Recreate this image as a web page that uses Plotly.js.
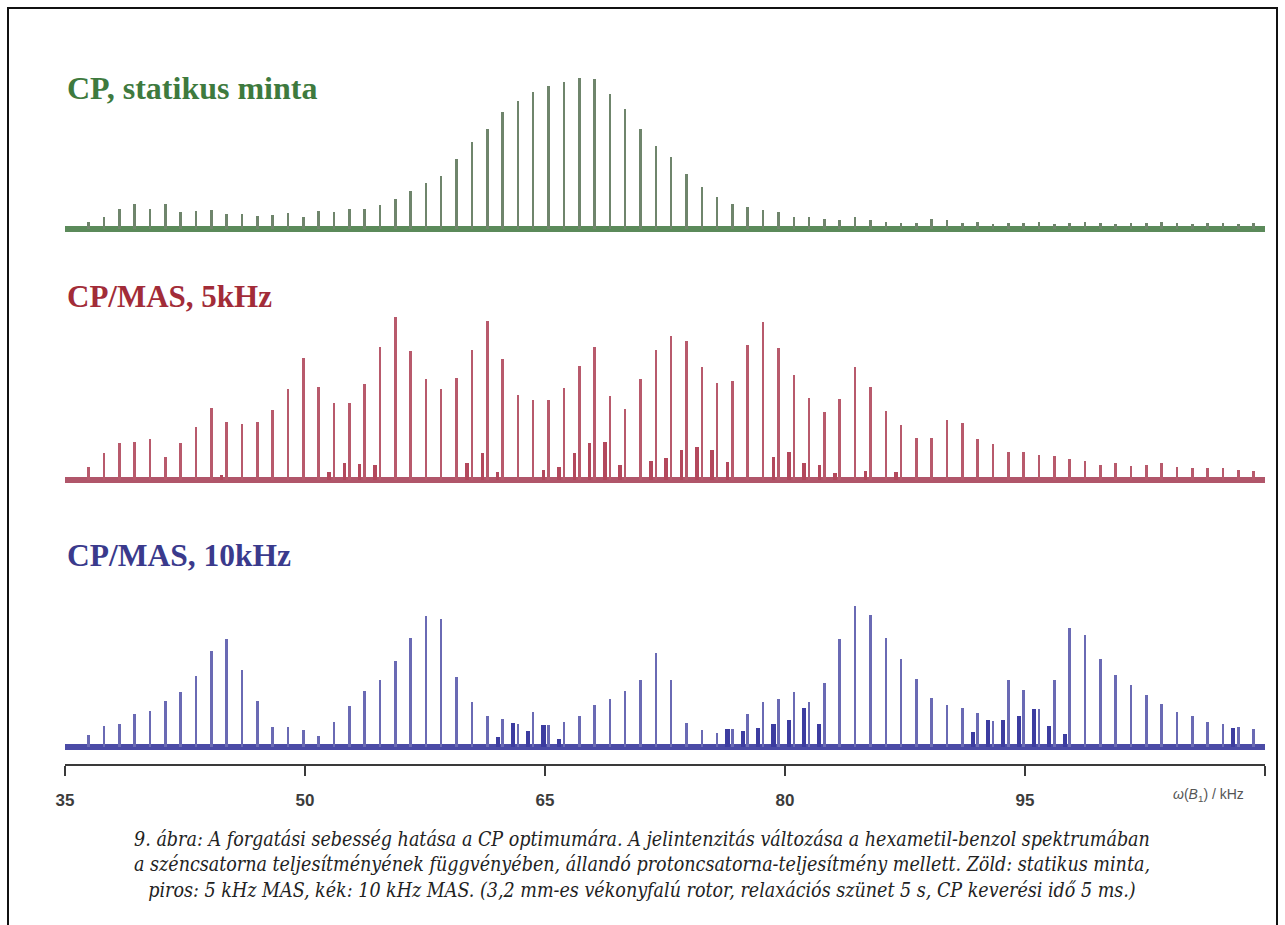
<!DOCTYPE html>
<html>
<head>
<meta charset="utf-8">
<script src="https://cdn.plot.ly/plotly-3.0.1.min.js"></script>
<style>
  html, body { margin: 0; padding: 0; background: #ffffff; }
  #chart { width: 1285px; height: 925px; }
</style>
</head>
<body>
<div id="chart"></div>
<script>
// Carbon-channel B1 field strength (kHz) of each experiment
const freq = [36.48,37.44,38.40,39.35,40.31,41.27,42.23,43.19,44.14,45.10,
  46.06,47.02,47.98,48.93,49.89,50.85,51.81,52.77,53.72,54.68,
  55.64,56.60,57.56,58.51,59.47,60.43,61.39,62.35,63.30,64.26,
  65.22,66.18,67.14,68.09,69.05,70.01,70.97,71.93,72.88,73.84,
  74.80,75.76,76.72,77.67,78.63,79.59,80.55,81.51,82.46,83.42,
  84.38,85.34,86.30,87.25,88.21,89.17,90.13,91.09,92.04,93.00,
  93.96,94.92,95.88,96.83,97.79,98.75,99.71,100.67,101.62,102.58,
  103.54,104.50,105.46,106.41,107.37,108.33,109.29];

// Peak intensities (arbitrary units)
const staticCP = [7,12,20,25,20,25,17,18,19,15, 15,13,14,16,12,18,17,20,20,24,
  30,38,46,53,70,87,100,117,128,137, 143,147,151,150,135,120,100,83,72,55,
  42,32,25,22,19,17,12,12,10,9, 12,9,7,6,6,10,9,6,7,5,
  6,6,7,5,6,7,6,5,6,6, 7,6,5,6,6,5,6];

const mas5 = [13,27,37,38,41,23,37,53,72,58, 56,58,70,91,122,93,77,77,96,133,
  163,129,101,91,102,130,159,121,85,80, 80,92,114,133,84,71,101,130,144,139,
  113,97,99,135,158,132,105,82,68,81, 113,93,69,55,42,42,60,57,41,36,
  28,28,25,24,21,19,15,17,14,15, 17,13,12,12,12,10,9];

const mas5Side = [0,0,0,0,0,0,0,0,0,5, 0,0,0,0,0,0,8,17,16,15,
  0,0,0,0,0,17,27,8,0,0, 10,13,27,37,38,15,0,19,22,30,
  33,30,18,0,0,23,28,17,15,7, 0,9,0,8,0,0,0,0,0,0,
  0,0,0,0,0,0,0,0,0,0, 0,0,0,0,0,0,0];

const mas10 = [12,21,23,33,36,46,55,71,96,108, 77,46,20,20,17,11,25,41,56,67,
  86,109,131,128,70,45,31,28,23,35, 22,25,31,42,48,56,67,94,67,24,
  17,14,18,33,45,48,55,45,64,108, 141,132,109,88,68,49,42,39,34,26,
  67,57,38,67,119,112,88,72,62,52, 43,35,31,25,23,20,18];

const mas10Side = [0,0,0,0,0,0,0,0,0,0, 0,0,0,0,0,0,0,0,0,0,
  0,0,0,0,0,0,0,10,24,16, 22,8,0,0,0,0,0,0,0,0,
  0,0,18,16,19,23,27,39,23,0, 0,0,0,0,0,0,0,0,15,27,
  27,31,38,21,13,0,0,0,0,0, 0,0,0,0,0,19,0];

const panelTitles = ["CP, statikus minta", "CP/MAS, 5kHz", "CP/MAS, 10kHz"];
const tickVals = [35, 50, 65, 80, 95];
const tickText = ["35", "50", "65", "80", "95"];
const axisEnd = [110];
const axisLabel = "<i>ω</i>(<i>B</i><sub>1</sub>) / kHz";
const caption = "9. ábra: A forgatási sebesség hatása a CP optimumára. A jelintenzitás változása a hexametil-benzol spektrumában<br>" +
  "a széncsatorna teljesítményének függvényében, állandó protoncsatorna-teljesítmény mellett. Zöld: statikus minta,<br>" +
  "piros: 5 kHz MAS, kék: 10 kHz MAS. (3,2 mm-es vékonyfalú rotor, relaxációs szünet 5 s, CP keverési idő 5 ms.)";

const W = 0.16;
function spikes(y, axis, color, width, off) {
  const t = {type: 'bar', x: freq, y: y, yaxis: axis, width: width,
    marker: {color: color, line: {width: 0}}, hoverinfo: 'skip', showlegend: false};
  if (off !== undefined) t.offset = off;
  return t;
}

const data = [
  spikes(staticCP, 'y', '#6f856c', W),
  spikes(mas5Side, 'y2', '#b3485c', 0.22, -0.42),
  spikes(mas5, 'y2', '#b85a6c', W),
  spikes(mas10Side, 'y3', '#3c3ca0', 0.26, -0.44),
  spikes(mas10, 'y3', '#6a6ab4', W)
];

function yax(domain, range, zc) {
  return {domain: domain, range: range, showgrid: false, showline: false,
    showticklabels: false, ticks: '', zeroline: true, zerolinecolor: zc,
    zerolinewidth: 6, fixedrange: true};
}

const layout = {
  width: 1285, height: 925,
  margin: {l: 65, r: 20, t: 10, b: 160},
  paper_bgcolor: '#ffffff', plot_bgcolor: 'rgba(0,0,0,0)',
  barmode: 'overlay', bargap: 0,
  showlegend: false,
  xaxis: {range: [35, 110], anchor: 'free', position: 0,
    tickmode: 'array', tickvals: tickVals, ticktext: tickText, ticks: 'outside', ticklen: 10,
    tickwidth: 2, tickcolor: '#3a3a3a', showline: true, linecolor: '#3a3a3a',
    linewidth: 2, showgrid: false, zeroline: false, ticklabelstandoff: 10,
    minor: {tickmode: 'array', tickvals: axisEnd, ticks: 'outside', ticklen: 10, tickwidth: 2,
      tickcolor: '#3a3a3a', showgrid: false},
    tickfont: {family: 'Liberation Sans Narrow, Liberation Sans, Arial', size: 17, color: '#3c3c3c', weight: 'bold'}},
  yaxis: yax([0.6967, 0.9219], [-10, 160], '#5b8a5a'),
  yaxis2: yax([0.3642, 0.6159], [-10, 180], '#b0566a'),
  yaxis3: yax([0.0106, 0.2358], [-10, 160], '#4b4ba6'),
  shapes: [{type: 'rect', xref: 'paper', yref: 'paper',
    x0: -0.0475, x1: 1.01, y0: -0.23, y1: 1.0026,
    line: {color: '#111111', width: 2}, fillcolor: 'rgba(0,0,0,0)', layer: 'above'}],
  annotations: [
    {text: '<b>' + panelTitles[0] + '</b>', xref: 'paper', yref: 'paper', x: 0.0, y: 0.8967,
      xanchor: 'left', yanchor: 'middle', showarrow: false,
      font: {family: 'Liberation Serif, Times New Roman, serif', size: 32, color: '#3e7a3e'}},
    {text: '<b>' + panelTitles[1] + '</b>', xref: 'paper', yref: 'paper', x: 0.0, y: 0.6199,
      xanchor: 'left', yanchor: 'middle', showarrow: false,
      font: {family: 'Liberation Serif, Times New Roman, serif', size: 31, color: '#a22c38'}},
    {text: '<b>' + panelTitles[2] + '</b>', xref: 'paper', yref: 'paper', x: 0.0, y: 0.278,
      xanchor: 'left', yanchor: 'middle', showarrow: false,
      font: {family: 'Liberation Serif, Times New Roman, serif', size: 31.5, color: '#3a3a8c'}},
    {text: axisLabel, xref: 'paper', yref: 'paper', x: 0.953, y: -0.0397,
      xanchor: 'center', yanchor: 'middle', showarrow: false,
      font: {family: 'Liberation Sans Narrow, Liberation Sans, Arial', size: 14, color: '#555555'}},
    {text: caption, xref: 'paper', yref: 'paper', x: 0.4808, y: -0.1325,
      xanchor: 'center', yanchor: 'middle', align: 'center', showarrow: false,
      font: {family: 'DejaVu Serif Condensed, DejaVu Serif, serif', size: 19.5, color: '#222222', style: 'italic'}}
  ]
};

Plotly.newPlot('chart', data, layout, {staticPlot: true, displayModeBar: false});
</script>
</body>
</html>
